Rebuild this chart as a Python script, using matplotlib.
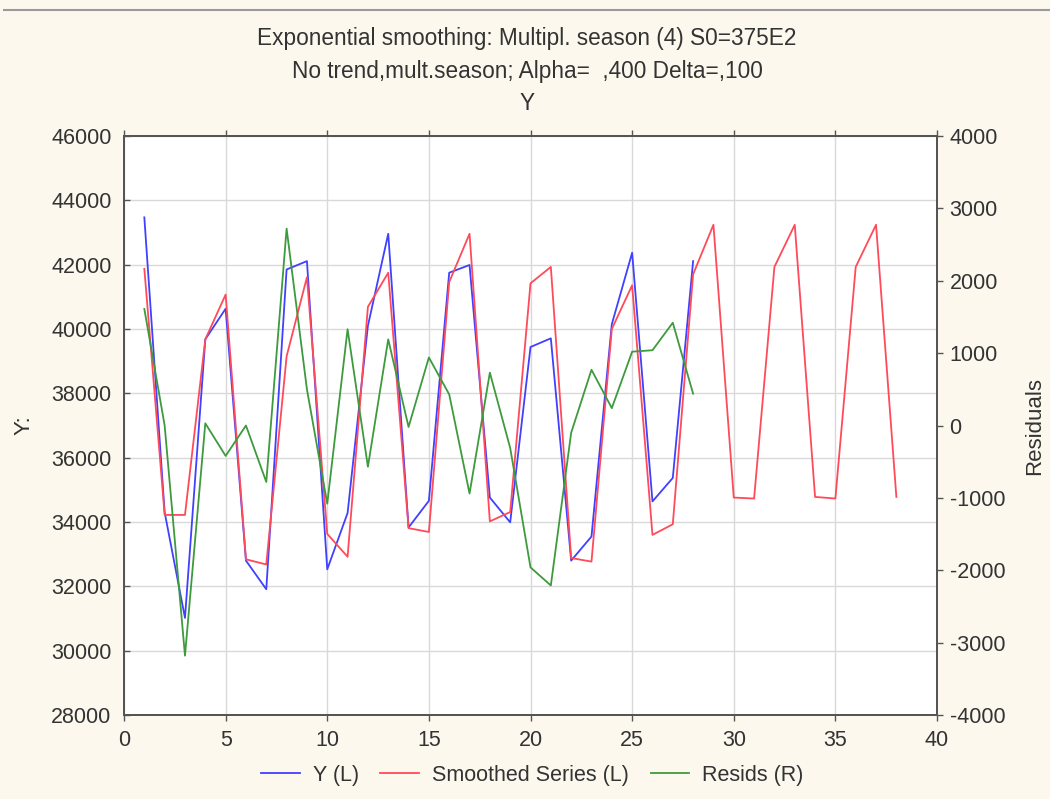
import matplotlib.pyplot as plt
from matplotlib.lines import Line2D

# data
t_obs = list(range(1, 29))
y_obs = [43470, 34300, 31020, 39680, 40630, 32800, 31910, 41850, 42110, 32530,
         34280, 40100, 42960, 33830, 34660, 41750, 41990, 34760, 33990, 39440,
         39710, 32800, 33550, 40150, 42370, 34640, 35370, 42110]

t_smooth = list(range(1, 39))
smoothed = [41870, 34220, 34220, 39680, 41070, 32840, 32680, 39150, 41610, 33630,
            32920, 40690, 41750, 33810, 33690, 41460, 42960, 34020, 34310, 41420,
            41930, 32880, 32770, 40000, 41360, 33600, 33930, 41700, 43240, 34760,
            34730, 41930, 43240, 34780, 34730, 41930, 43240, 34780]

resids = [1610, 0, -3180, 30, -420, 0, -780, 2720, 500, -1080,
          1330, -570, 1190, -20, 940, 430, -940, 730, -310, -1960,
          -2210, -100, 770, 240, 1020, 1040, 1420, 440]

title_lines = ["Exponential smoothing: Multipl. season (4) S0=375E2",
               "No trend,mult.season; Alpha=  ,400 Delta=,100",
               "Y"]

plt.rcParams['font.family'] = ['Liberation Sans', 'DejaVu Sans']
plt.rcParams['axes.unicode_minus'] = False

bg = '#fcf8ee'
txt = '#333333'
fig = plt.figure(figsize=(10.5, 7.99), dpi=100, facecolor=bg)
ax = fig.add_axes([0.1181, 0.1051, 0.7743, 0.7247])
ax2 = ax.twinx()

ax.plot(t_obs, y_obs, color='#4040ff', lw=1.3, label='Y (L)')
ax.plot(t_smooth, smoothed, color='#ff4a5a', lw=1.3, label='Smoothed Series (L)')
ax2.plot(t_obs, resids, color='#3d9a3d', lw=1.3, label='Resids (R)')

ax.set_xlim(0, 40)
ax.set_ylim(28000, 46000)
ax2.set_ylim(-4000, 4000)
ax.set_xticks(range(0, 41, 5))
ax.set_yticks(range(28000, 46001, 2000))
ax2.set_yticks(range(-4000, 4001, 1000))

ax.grid(True, color='#d9d9d9', lw=1)
ax.set_axisbelow(True)
ax.set_facecolor('white')

for a in (ax, ax2):
    for s in a.spines.values():
        s.set_color('#555555')
        s.set_linewidth(1.4)
ax.tick_params(axis='both', labelsize=15.5, colors='#555555', labelcolor=txt,
               length=4, width=1)
ax.tick_params(axis='y', direction='in', pad=9)
ax.tick_params(axis='x', direction='out', pad=7, top=True)
ax2.tick_params(axis='y', labelsize=15.5, colors='#555555', labelcolor=txt,
                length=4, width=1, direction='out', pad=5)

ax.set_ylabel('Y:', fontsize=16, color=txt, labelpad=12)
ax2.set_ylabel('Residuals', fontsize=16, color=txt, labelpad=14)

fig.text(0.502, 0.952, title_lines[0], ha='center', va='center', fontsize=16.3, color=txt)
fig.text(0.502, 0.910, title_lines[1], ha='center', va='center', fontsize=16.3, color=txt)
fig.text(0.502, 0.870, title_lines[2], ha='center', va='center', fontsize=16.3, color=txt)

h1, l1 = ax.get_legend_handles_labels()
h2, l2 = ax2.get_legend_handles_labels()
fig.legend(h1 + h2, l1 + l2, loc='center', bbox_to_anchor=(0.507, 0.030), ncol=3,
           frameon=False, fontsize=15.5, handlelength=1.8, columnspacing=1.0,
           handletextpad=0.6, labelcolor=txt)

# thin frame line at the top of the picture
fig.add_artist(Line2D([0.004, 1.0], [0.988, 0.988], transform=fig.transFigure,
                      color='#9a9a9a', lw=1.5))

fig.savefig('out.png', dpi=100, facecolor=bg)
